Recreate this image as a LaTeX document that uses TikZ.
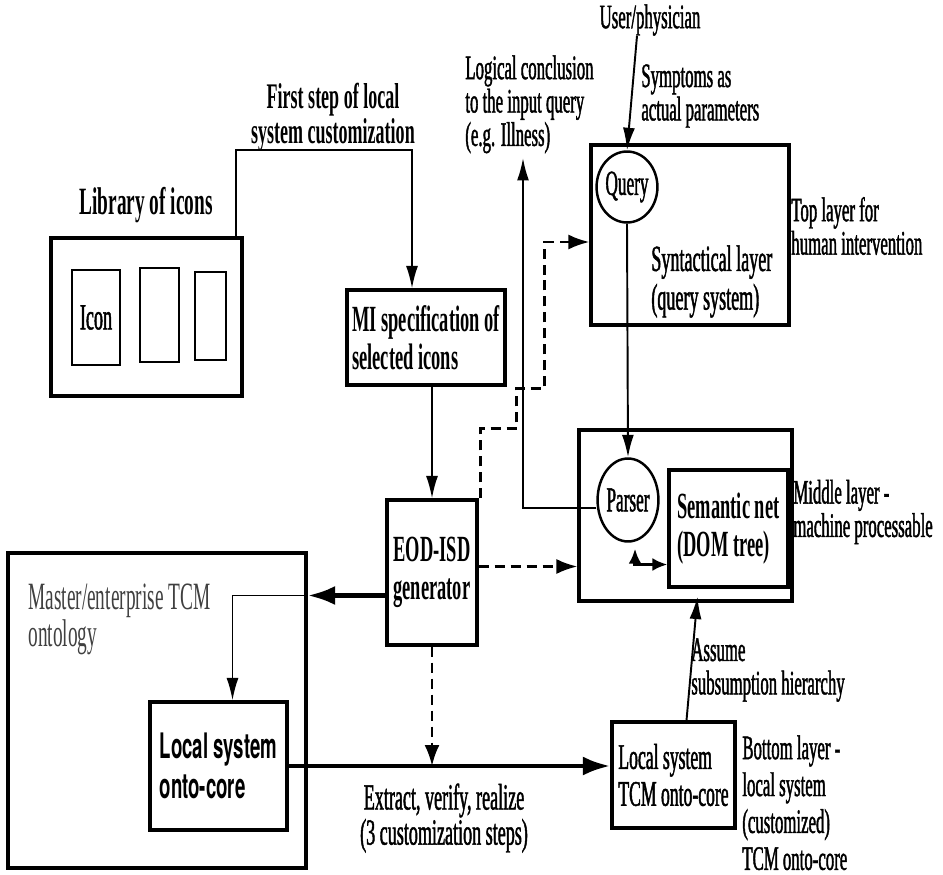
\documentclass[tikz,border=0pt]{standalone}
\usepackage{fontspec}
\setmainfont{Liberation Serif}[FakeStretch=0.5]
\newfontfamily\lbl{Liberation Serif}[FakeStretch=0.49,FakeBold=1.2]
\newfontfamily\gothic{TeX Gyre Heros}[FakeStretch=0.53]
\usetikzlibrary{arrows.meta,shapes.geometric,calc}
\newcommand{\fsz}[2]{\fontsize{#1}{#2}\selectfont}

\begin{document}
\begin{tikzpicture}[x=0.02cm,y=-0.02cm,
  bx/.style={draw,line width=1.8pt,inner sep=0pt},
  st/.style={bx,align=left,font=\bfseries\fsz{21}{21.5}},
  el/.style={draw,ellipse,line width=1.4pt,inner sep=0pt,font=\lbl\fsz{20}{20}},
  lb/.style={align=left,inner sep=0pt,font=\lbl\fsz{19.5}{19}},
  ar/.style={-{Latex[length=4.5mm,width=2.4mm]},line width=1.1pt},
  thk/.style={-{Latex[length=5.5mm,width=3.8mm]},line width=2.6pt},
  dar/.style={-{Latex[length=4.2mm,width=3mm]},line width=1.5pt,dash pattern=on 0.2cm off 0.12cm},
  dbl/.style={{Latex[length=3mm,width=2.6mm]}-{Latex[length=3mm,width=2.6mm]},line width=2pt}]
\useasboundingbox (0,0) rectangle (943,875);
% library and selection
\node[lb,font=\bfseries\fsz{22}{22}] (libt) at (146,205) {Library of icons};
\node[bx,minimum width=3.82cm,minimum height=3.16cm] (lib) at (146.5,317) {};
\node[bx,line width=1.5pt,minimum width=0.96cm,minimum height=1.9cm,font=\lbl\fsz{21}{21}] (ic1) at (96,317.5) {Icon};
\node[bx,line width=1.5pt,minimum width=0.78cm,minimum height=1.88cm] (ic2) at (159.5,315) {};
\node[bx,line width=1.5pt,minimum width=0.62cm,minimum height=1.76cm] (ic3) at (210.5,316) {};
\node[lb,align=center,font=\bfseries\fsz{20.5}{18}] (fst) at (333,117) {First step of local\\system customization};
\node[st,minimum width=3.16cm,minimum height=1.9cm] (mi) at (426,337.5) {MI specification of\\selected icons};
\node[st,minimum width=1.8cm,minimum height=2.9cm] (eod) at (432,572.5) {EOD-ISD\\generator};
% top layer
\node[lb] (usr) at (650,20) {User/physician};
\node[lb,anchor=north west] (sym) at (641,64) {Symptoms as\\actual parameters};
\node[lb,anchor=north west] (lgt) at (465,55) {Logical conclusion\\to the input query\\(e.g. Illness)};
\coordinate (lgc) at (523,158);
\node[bx,minimum width=3.96cm,minimum height=3.6cm] (top) at (690,235) {};
\node[el,minimum width=1.08cm,minimum height=1.42cm] (qry) at (627,187) {Query};
\node[lb,anchor=north west,font=\lbl\fsz{21}{22}] (syn) at (651,245) {Syntactical layer\\(query system)};
\node[lb,anchor=west] (tpl) at (791,226) {Top layer for\\human intervention};
% middle layer
\node[bx,minimum width=4.26cm,minimum height=3.42cm] (mid) at (685.5,515.5) {};
\node[el,minimum width=1.18cm,minimum height=1.66cm] (par) at (628,500) {Parser};
\node[st,minimum width=2.38cm,minimum height=2.34cm] (sem) at (728.5,528.5) {Semantic net\\(DOM tree)};
\node[lb,anchor=west] (mdl) at (793,512) {Middle layer -\\machine processable};
% master ontology and bottom layer
\node[bx,minimum width=5.96cm,minimum height=6.3cm] (master) at (157,710.5) {};
\node[lb,anchor=north west,text=black!75,font=\fsz{22}{21}] (mst) at (28,584) {Master/enterprise TCM\\ontology};
\node[bx,align=left,font=\gothic\bfseries\fsz{20}{23},minimum width=2.74cm,minimum height=2.56cm] (loc) at (218.5,766) {Local system\\onto-core};
\node[bx,align=left,font=\lbl\fsz{20.5}{21},minimum width=2.46cm,minimum height=2.12cm] (tcm) at (673.5,775) {Local system\\TCM onto-core};
\node[lb,align=center,font=\lbl\fsz{21}{20}] (ext) at (444,818) {Extract, verify, realize\\(3 customization steps)};
\node[lb,anchor=north west] (asm) at (691,638) {Assume\\subsumption hierarchy};
\node[lb,anchor=north west,font=\lbl\fsz{19.5}{21}] (btm) at (742,735) {Bottom layer -\\local system\\(customized)\\TCM onto-core};
% connectors
\draw[ar] ($(lib.north east)+(-8,0)$) -- ++(0,-86) -| ($(mi.north)+(-14,0)$);
\draw[ar] (mi.south -| eod.north) -- (eod.north);
\coordinate (ew) at ($(eod.west)+(0,23)$);
\draw[thk] (ew) -- (ew -| master.east);
\draw[ar] (ew -| master.east) -| ($(loc.north)+(14,0)$);
\draw[thk] (loc.east) -- (loc.east -| tcm.west);
\draw[dar] (eod.south) -- (eod.south |- loc.east);
\draw[ar] ($(tcm.north)+(13,0)$) -- ($(sem.south)+(-31,8)$);
\coordinate (ee) at ($(eod.east)+(0,-6)$);
\draw[dar] (ee) -- (ee -| mid.west);
\draw[dar] ($(eod.north east)+(2,0)$) -- ++(0,-70) -- ++(36,0) -- ++(0,-40) -- ++(28,0) |- ($(top.west)+(0,7)$);
\draw[ar] ($(usr.south)+(-13,0)$) -- (qry.north);
\draw[ar] (qry.south) -- (par.north);
\draw[ar] ($(par.west)+(0,8)$) -| (lgc);
\draw[dbl] ($(par.south)+(7,6)$) |- ($(sem.west)+(0,36)$);
\end{tikzpicture}
\end{document}
